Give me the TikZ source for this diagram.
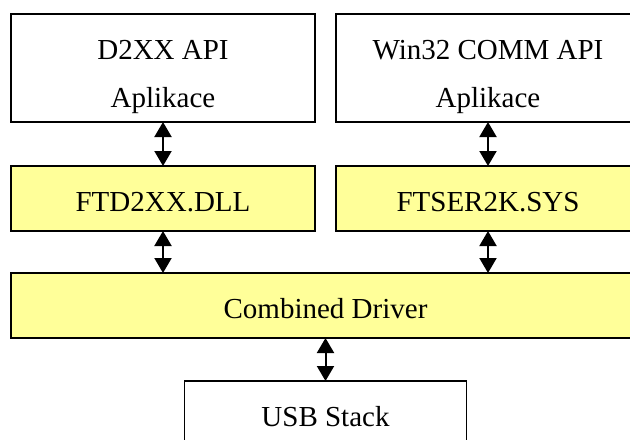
\documentclass[tikz,border=0pt]{standalone}
\usepackage{fontspec}
\setmainfont{Liberation Serif}
\usetikzlibrary{arrows.meta,positioning}
\definecolor{drvyellow}{RGB}{255,255,153}

\begin{document}
\begin{tikzpicture}[<->,>={Triangle[length=7.5pt,width=8.5pt]},line width=1pt,
  box/.style={draw,line width=0.9pt,inner sep=0pt,outer sep=0pt,
    font=\fontsize{14.5}{24}\selectfont},
  appbox/.style={box,minimum width=152pt,minimum height=54pt,align=center},
  drvbox/.style={box,fill=drvyellow,minimum height=32.5pt,text height=12.8pt,text depth=0pt}]

  \clip (0,0) rectangle (315pt,-219.5pt);

  \node[appbox] (d2xx)  at (81.5pt,-34pt)        {\rule{0pt}{19pt}D2XX API\\Aplikace};
  \node[appbox] (win32) [right=10.5pt of d2xx]   {\rule{0pt}{19pt}Win32 COMM API\\Aplikace};
  \node[drvbox,minimum width=152pt] (dll) [below=22pt of d2xx]  {FTD2XX.DLL};
  \node[drvbox,minimum width=152pt] (sys) [below=22pt of win32] {FTSER2K.SYS};
  \node[drvbox,minimum width=314.5pt] (comb) [below right=21pt and 0pt of dll.south west] {Combined Driver};
  \node[box,minimum width=141pt,minimum height=32.5pt,text height=12.8pt,text depth=0pt]
    (usb) [below=21.5pt of comb] {USB Stack};

  \draw (d2xx)  -- (dll);
  \draw (win32) -- (sys);
  \draw (dll)   -- (dll.south |- comb.north);
  \draw (sys)   -- (sys.south |- comb.north);
  \draw (usb.north |- comb.south) -- (usb);
\end{tikzpicture}
\end{document}
